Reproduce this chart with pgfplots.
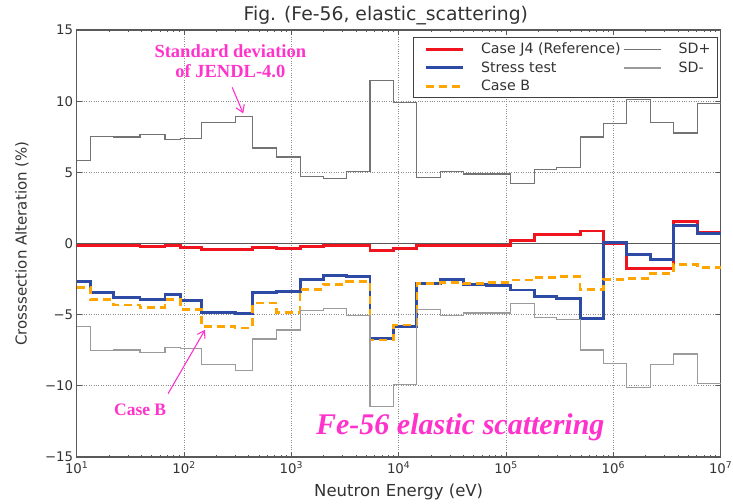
\documentclass[border=0pt]{standalone}
\usepackage{pgfplots}
\pgfplotsset{compat=1.18}
\usepackage{pgfplotstable}
\usepackage{fontspec}
\setmainfont{DejaVu Sans}
\newfontfamily\tnr{Liberation Serif}
\usetikzlibrary{arrows.meta}
\definecolor{cred}{RGB}{240,20,30}
\definecolor{cblue}{RGB}{45,75,165}
\definecolor{corange}{RGB}{255,165,0}
\definecolor{sdp}{RGB}{115,115,115}
\definecolor{sdm}{RGB}{155,155,155}
\definecolor{mag}{RGB}{255,51,204}

% bin left edges, last row repeats final value at 1e7
\pgfplotstableread{
E        sdp     sdm     ref    st     cb
10       5.82   -5.82   -0.12  -2.67  -3.07
13.5     7.52   -7.52   -0.12  -3.44  -3.95
21.9     7.48   -7.48   -0.15  -3.77  -4.33
38.9     7.64   -7.64   -0.24  -3.95  -4.49
66.5     7.29   -7.29   -0.17  -3.60  -3.95
92.7     7.38   -7.38   -0.31  -4.00  -4.65
146      8.53   -8.53   -0.42  -4.82  -5.82
299      8.92   -8.92   -0.42  -4.89  -5.94
437      6.71   -6.71   -0.30  -3.44  -4.19
731      6.08   -6.08   -0.38  -3.37  -4.84
1205     4.72   -4.72   -0.22  -2.50  -3.22
1986     4.58   -4.58   -0.12  -2.22  -2.87
3281     5.05   -5.05   -0.12  -2.34  -2.69
5408     11.44  -11.44  -0.50  -6.66  -6.78
8933     9.93   -9.93   -0.38  -5.84  -5.73
14760    4.62   -4.62   -0.15  -2.80  -2.80
24320    5.03   -5.03   -0.15  -2.50  -2.73
40090    4.88   -4.88   -0.15  -2.87  -2.80
66220    4.88   -4.88   -0.15  -2.97  -2.73
109200   4.22   -4.22    0.22  -3.27  -2.57
182800   5.23   -5.23    0.62  -3.72  -2.38
297200   5.37   -5.37    0.62  -3.85  -2.34
489800   7.48   -7.48    0.88  -5.26  -3.22
809100   8.46   -8.46    0.02   0.04  -2.52
1337000  10.14  -10.14  -1.75  -0.75  -2.45
2203000  8.53   -8.53   -1.75  -1.12  -2.10
3631000  7.76   -7.76    1.56   1.28  -1.47
6081000  9.81   -9.81    0.77   0.70  -1.68
10000000 9.81   -9.81    0.77   0.70  -1.68
}\data

\begin{document}
\begin{tikzpicture}
\path[use as bounding box] (-76.7pt,-46pt) rectangle (656.3pt,457pt);
\begin{axis}[
  at={(0,0)}, anchor=south west,
  width=644pt, height=427pt, scale only axis,
  clip=false,
  xmode=log, xmin=10, xmax=1e7, ymin=-15, ymax=15,
  xtick={1e1,1e2,1e3,1e4,1e5,1e6,1e7},
  xticklabels={10\textsuperscript{1},10\textsuperscript{2},10\textsuperscript{3},10\textsuperscript{4},10\textsuperscript{5},10\textsuperscript{6},10\textsuperscript{7}},
  minor xtick={2e1,3e1,4e1,5e1,6e1,7e1,8e1,9e1,2e2,3e2,4e2,5e2,6e2,7e2,8e2,9e2,2e3,3e3,4e3,5e3,6e3,7e3,8e3,9e3,2e4,3e4,4e4,5e4,6e4,7e4,8e4,9e4,2e5,3e5,4e5,5e5,6e5,7e5,8e5,9e5,2e6,3e6,4e6,5e6,6e6,7e6,8e6,9e6},
  ytick={-15,-10,-5,0,5,10,15},
  yticklabels={−15,−10,−5,0,5,10,15},
  grid=major,
  major grid style={black!45, dotted, line width=0.9pt},
  minor grid style={draw=none},
  axis line style={black!65, line width=1.3pt},
  tick style={black!65, line width=0.8pt},
  major tick length=5pt, minor tick length=2.5pt,
  tick align=inside,
  ticklabel style={font=\fontsize{13.3}{13.3}\selectfont, text=black!80},
  xticklabel style={yshift=-1pt},
  xlabel={Neutron Energy (eV)},
  ylabel={Crosssection Alteration (\%)},
  every axis x label/.style={at={(axis description cs:0.5,-0.082)}, anchor=center, font=\fontsize{16.5}{16.5}\selectfont, text=black!80},
  every axis y label/.style={at={(axis description cs:-0.085,0.5)}, rotate=90, anchor=center, font=\fontsize{15}{15}\selectfont, text=black!80},
  title={Fig. (Fe-56, elastic\_scattering)},
  every axis title/.style={at={(axis description cs:0.48,1.034)}, anchor=center, font=\fontsize{18.8}{18.8}\selectfont, text=black!80},
  legend columns=2,
  legend cell align=left,
  legend style={at={(axis description cs:1,1)}, anchor=north east, xshift=-2.7pt, yshift=-7pt,
    draw=black!75, line width=1pt, fill=white, text=black!80,
    font=\fontsize{14.2}{14.2}\selectfont, inner xsep=5pt, inner ysep=3.5pt, row sep=2.5pt,
    /tikz/every even column/.append style={column sep=-6pt}},
  legend image code/.code={\path (-6pt,0pt); \draw[#1] (0pt,0pt) -- (37pt,0pt); \path (52pt,0pt);},
]
\addplot[black!65, line width=0.8pt, forget plot] coordinates {(10,0) (1e7,0)};
\addplot[const plot, cred, line width=2.9pt, forget plot] table[x=E, y=ref] {\data};
\addplot[const plot, cblue, line width=2.9pt, forget plot] table[x=E, y=st] {\data};
\addplot[const plot, corange, line width=2.7pt, dash pattern=on 8pt off 5pt, forget plot] table[x=E, y=cb] {\data};
\addplot[const plot, sdp, line width=1.1pt, forget plot] table[x=E, y=sdp] {\data};
\addplot[const plot, sdm, line width=1.1pt, forget plot] table[x=E, y=sdm] {\data};

\addlegendimage{cred, line width=2.9pt}
\addlegendentry{Case J4 (Reference)}
\addlegendimage{sdp, line width=1.1pt}
\addlegendentry{SD+}
\addlegendimage{cblue, line width=2.9pt}
\addlegendentry{Stress test}
\addlegendimage{sdm, line width=2pt}
\addlegendentry{SD-}
\addlegendimage{corange, line width=2.7pt, dash pattern=on 8pt off 5pt}
\addlegendentry{Case B}

\node[font=\tnr\bfseries\fontsize{18.5}{20.5}\selectfont, text=mag, align=center] at (axis cs:270,12.8) {Standard deviation\\of JENDL-4.0};
\draw[-{Straight Barb[length=7pt,width=9pt]}, mag, line width=1.1pt] (axis cs:281,10.97) -- (axis cs:356,9.14);
\node[font=\tnr\bfseries\fontsize{17.5}{17.5}\selectfont, text=mag] at (axis cs:39,-11.67) {Case B};
\draw[-{Straight Barb[length=7pt,width=9pt]}, mag, line width=1.1pt] (axis cs:71,-10.55) -- (axis cs:157,-6.06);
\node[font=\tnr\bfseries\itshape\fontsize{30}{30}\selectfont, text=mag] at (axis cs:37500,-12.93) {Fe-56 elastic scattering};
\end{axis}
\end{tikzpicture}
\end{document}
